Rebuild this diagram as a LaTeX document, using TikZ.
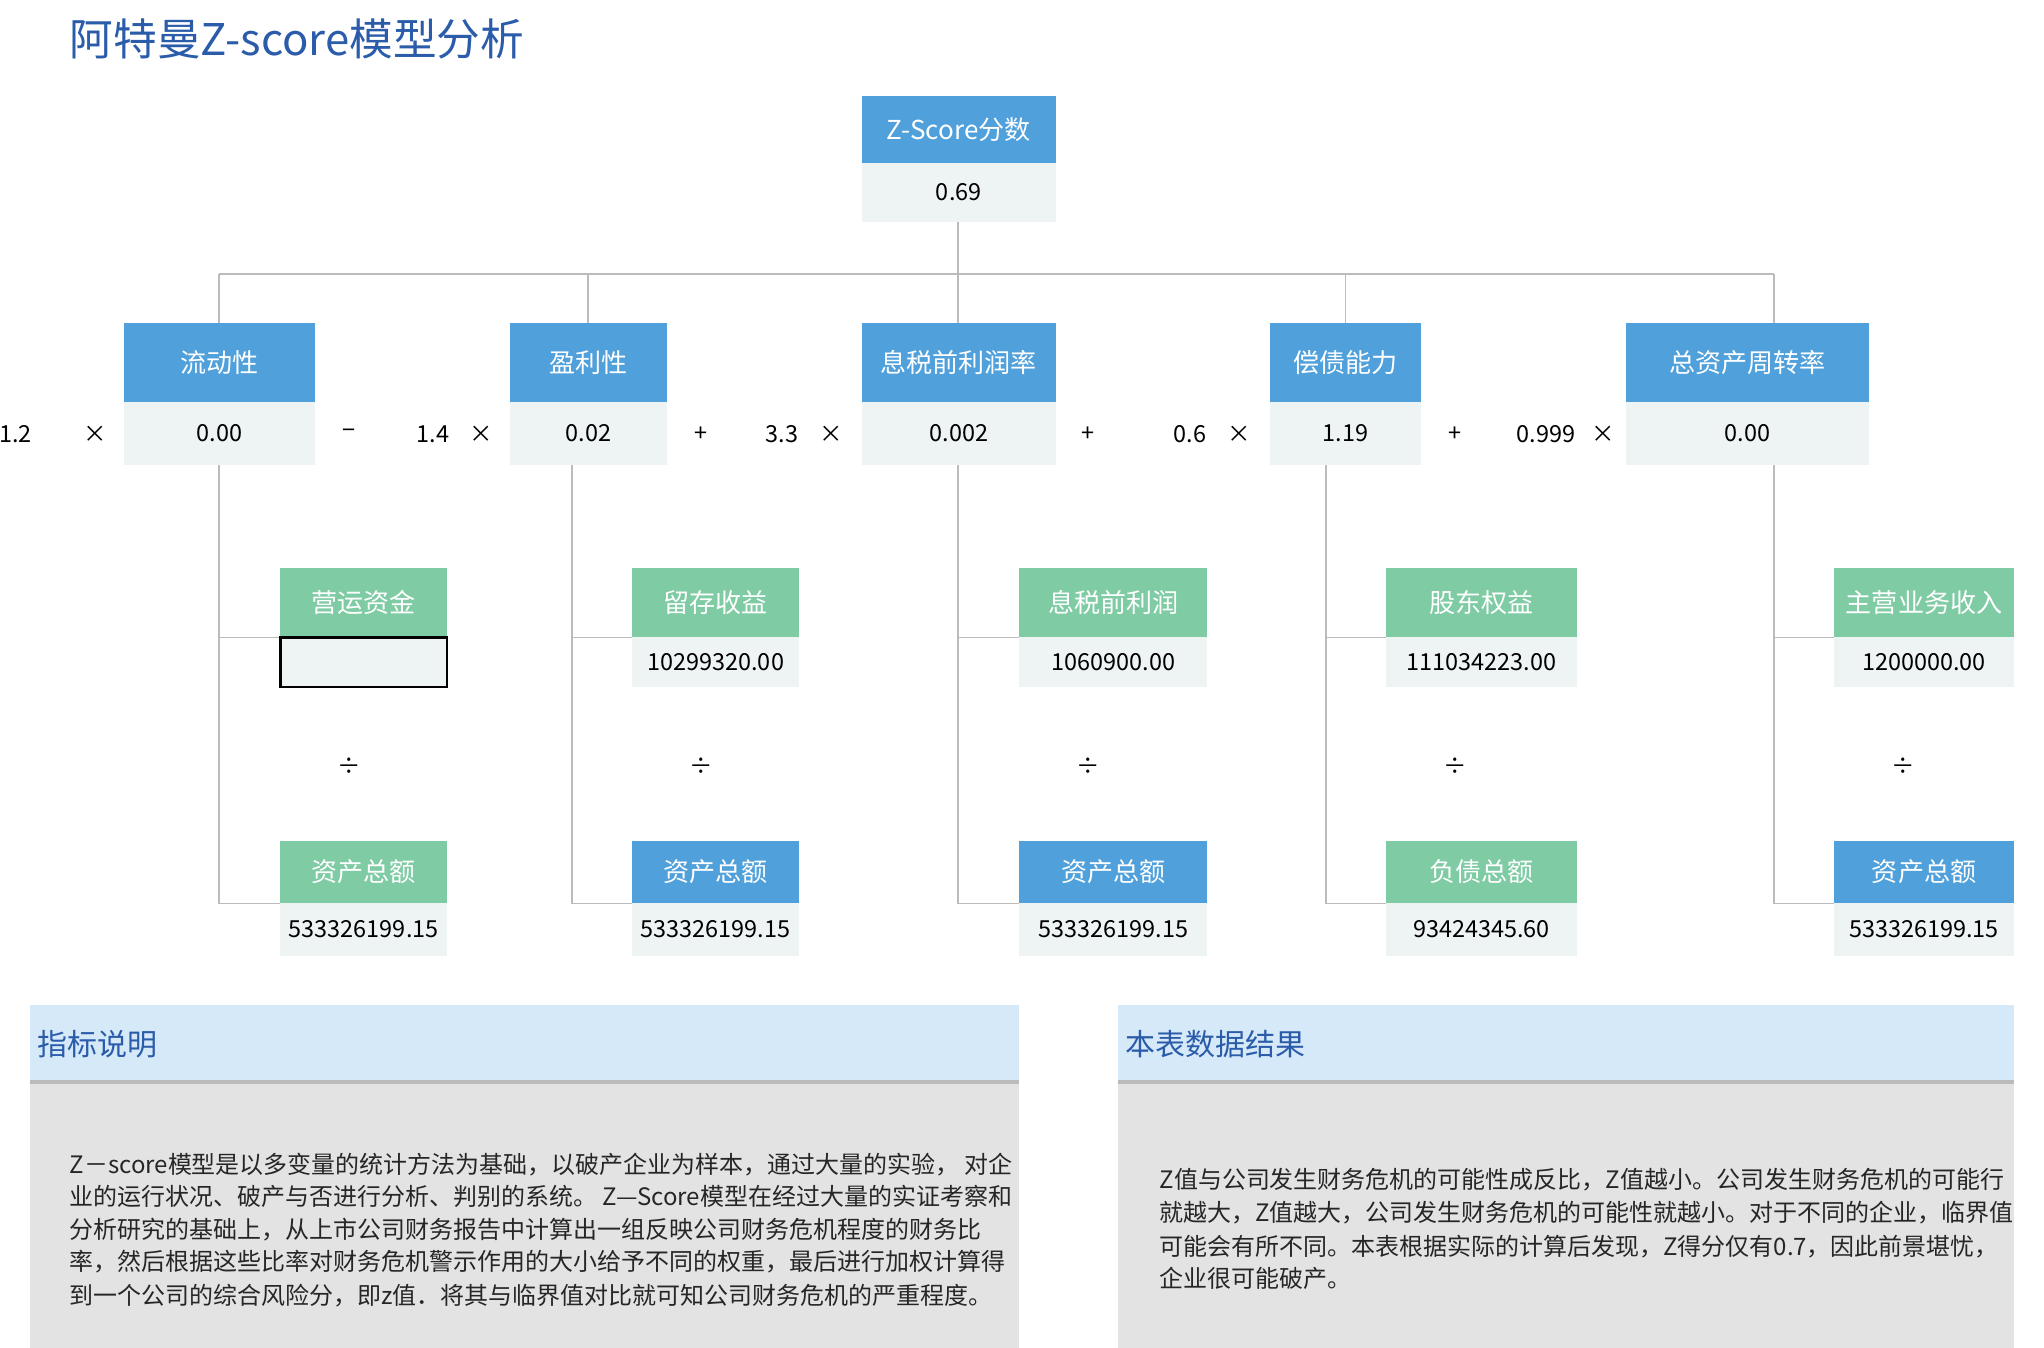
\documentclass[tikz,border=0pt]{standalone}
\usepackage{fontspec}
\setmainfont{Noto Sans CJK SC}
\definecolor{hblue}{HTML}{4FA0DB}
\definecolor{hgreen}{HTML}{7FCBA4}
\definecolor{vcell}{HTML}{EEF3F3}
\definecolor{tblue}{HTML}{2A5CAA}
\definecolor{lgray}{HTML}{BBBBBB}
\definecolor{pblue}{HTML}{D6E9F8}
\definecolor{pgray}{HTML}{E3E3E3}
\tikzset{conn/.style={draw=lgray,line width=1.2pt},
 op/.style={font=\fontsize{18}{20}\selectfont},
 body/.style={anchor=west,font=\fontsize{18.4}{20}\selectfont,text=black!85}}
\begin{document}
\begin{tikzpicture}[x=1pt,y=-1pt]
\useasboundingbox (0,0) rectangle (1568,1034);
\fill[white] (0,0) rectangle (1568,1034);
\node[anchor=west,text=tblue,font=\fontsize{33.5}{36}\selectfont] (title) at (50,30) {阿特曼Z-score模型分析};
\newcommand{\hdr}[7]{% name x1 x2 y1 y2 fill text
  \node[inner sep=0pt,fill=#6,minimum width={#3-#2},minimum height={#5-#4},text=white,font=\fontsize{20}{22}\selectfont] (#1) at ({(#2+#3)/2},{(#4+#5)/2}) {#7};}
\newcommand{\val}[6]{% name x1 x2 y1 y2 text
  \node[inner sep=0pt,fill=vcell,minimum width={#3-#2},minimum height={#5-#4},text=black,font=\fontsize{18}{20}\selectfont] (#1) at ({(#2+#3)/2},{(#4+#5)/2}) {#6};}
\coordinate (j0) at (735,210);
\coordinate (jl) at (168,210);
\coordinate (jr) at (1361,210);
\draw[conn] (735,170) -- (j0);
\draw[conn] (jl) -- (jr);
\foreach \x in {168,451,735,1032,1361}{\draw[conn] (\x,210) -- (\x,250);}
\foreach \x/\s in {168/215,439/485,735/782,1017/1063,1361/1407}{
 \draw[conn] (\x,357) -- (\x,693) -- (\s,693);
 \draw[conn] (\x,489) -- (\s,489);}
\hdr{zh}{661}{810}{74}{125}{hblue}{Z-Score分数}
\val{zv}{661}{810}{125}{170}{0.69}
\hdr{h1}{95}{242}{248}{308}{hblue}{流动性}\val{v1}{95}{242}{308}{357}{0.00}
\hdr{h2}{391}{512}{248}{308}{hblue}{盈利性}\val{v2}{391}{512}{308}{357}{0.02}
\hdr{h3}{661}{810}{248}{308}{hblue}{息税前利润率}\val{v3}{661}{810}{308}{357}{0.002}
\hdr{h4}{974}{1090}{248}{308}{hblue}{偿债能力}\val{v4}{974}{1090}{308}{357}{1.19}
\hdr{h5}{1247}{1434}{248}{308}{hblue}{总资产周转率}\val{v5}{1247}{1434}{308}{357}{0.00}
\hdr{a1}{215}{343}{436}{489}{hgreen}{营运资金}
\node[inner sep=0pt,fill=vcell,draw=black,line width=2pt,minimum width=128,minimum height=38] (av1) at (279,508) {};
\hdr{b1}{215}{343}{645}{693}{hgreen}{资产总额}\val{bv1}{215}{343}{693}{733}{533326199.15}
\hdr{a2}{485}{613}{436}{489}{hgreen}{留存收益}\val{av2}{485}{613}{489}{527}{10299320.00}
\hdr{b2}{485}{613}{645}{693}{hblue}{资产总额}\val{bv2}{485}{613}{693}{733}{533326199.15}
\hdr{a3}{782}{926}{436}{489}{hgreen}{息税前利润}\val{av3}{782}{926}{489}{527}{1060900.00}
\hdr{b3}{782}{926}{645}{693}{hblue}{资产总额}\val{bv3}{782}{926}{693}{733}{533326199.15}
\hdr{a4}{1063}{1210}{436}{489}{hgreen}{股东权益}\val{av4}{1063}{1210}{489}{527}{111034223.00}
\hdr{b4}{1063}{1210}{645}{693}{hgreen}{负债总额}\val{bv4}{1063}{1210}{693}{733}{93424345.60}
\hdr{a5}{1407}{1545}{436}{489}{hgreen}{主营业务收入}\val{av5}{1407}{1545}{489}{527}{1200000.00}
\hdr{b5}{1407}{1545}{645}{693}{hblue}{资产总额}\val{bv5}{1407}{1545}{693}{733}{533326199.15}
\foreach \x/\t [count=\i] in {12/1.2,73/×,268/−,332/1.4,369/×,538/+,600/3.3,638/×,835/+,913/0.6,951/×,1116/+,1186/0.999,1230/×}
 {\node[op] (o\i) at (\x,333) {\t};}
\foreach \x [count=\i] in {268,538,835,1116,1460}{\node[op] (d\i) at (\x,588) {÷};}
\fill[pblue] (23,771) rectangle (782,830);
\fill[pgray] (23,830) rectangle (782,1034);
\draw[lgray,line width=3pt] (23,830) -- (782,830);
\fill[pblue] (858,771) rectangle (1545,830);
\fill[pgray] (858,830) rectangle (1545,1034);
\draw[lgray,line width=3pt] (858,830) -- (1545,830);
\node[anchor=west,text=tblue,font=\fontsize{23}{26}\selectfont] (p1) at (25,801) {指标说明};
\node[anchor=west,text=tblue,font=\fontsize{23}{26}\selectfont] (p2) at (860,801) {本表数据结果};
\node[body] (l1) at (50,893) {Z－score模型是以多变量的统计方法为基础，以破产企业为样本，通过大量的实验， 对企};
\node[body] (l2) at (50,918) {业的运行状况、破产与否进行分析、判别的系统。 Z—Score模型在经过大量的实证考察和};
\node[body] (l3) at (50,943) {分析研究的基础上，从上市公司财务报告中计算出一组反映公司财务危机程度的财务比};
\node[body] (l4) at (50,968) {率，然后根据这些比率对财务危机警示作用的大小给予不同的权重，最后进行加权计算得};
\node[body] (l5) at (50,994) {到一个公司的综合风险分，即z值．将其与临界值对比就可知公司财务危机的严重程度。};
\node[body] (r1) at (886,905) {Z值与公司发生财务危机的可能性成反比，Z值越小。公司发生财务危机的可能行};
\node[body] (r2) at (886,930) {就越大，Z值越大，公司发生财务危机的可能性就越小。对于不同的企业，临界值};
\node[body] (r3) at (886,956) {可能会有所不同。本表根据实际的计算后发现，Z得分仅有0.7，因此前景堪忧，};
\node[body] (r4) at (886,981) {企业很可能破产。};
\end{tikzpicture}
\end{document}
